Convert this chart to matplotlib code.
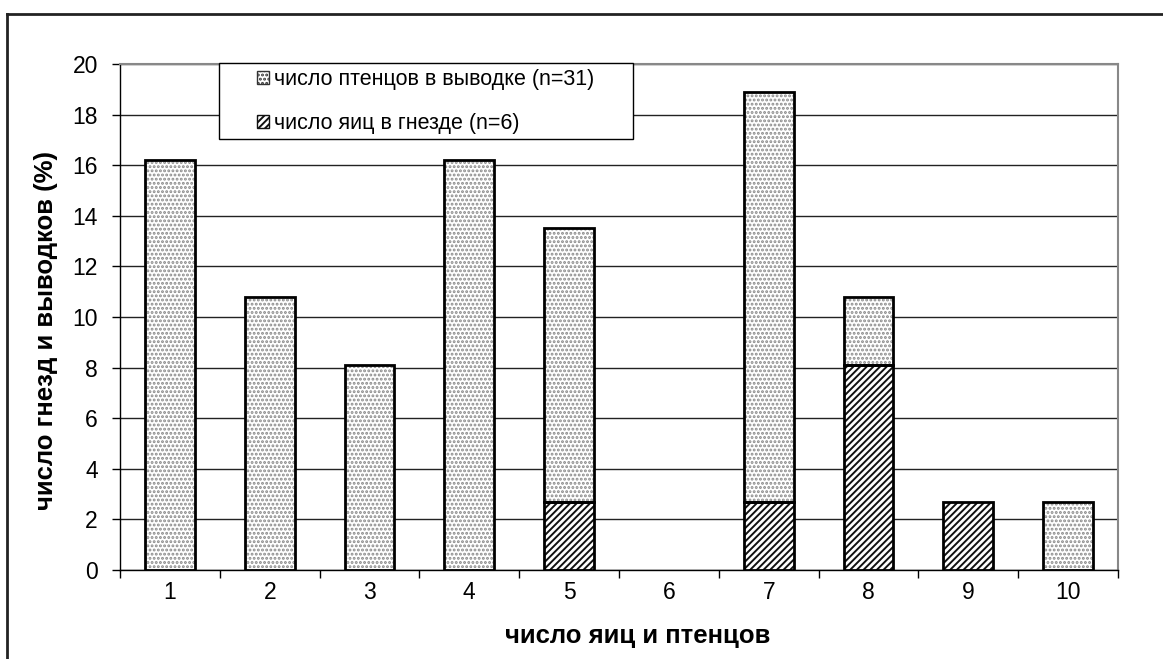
import matplotlib
matplotlib.use("Agg")
import matplotlib.pyplot as plt
import numpy as np
from matplotlib.patches import Patch, Rectangle
from matplotlib.lines import Line2D

plt.rcParams['font.family'] = ['Liberation Sans', 'DejaVu Sans']
plt.rcParams['hatch.linewidth'] = 1.4

categories = ['1', '2', '3', '4', '5', '6', '7', '8', '9', '10']
eggs = [0, 0, 0, 0, 2.7, 0, 2.7, 8.1, 2.7, 0]                  # число яиц в гнезде (n=6)
chicks = [16.2, 10.8, 8.1, 16.2, 10.8, 0, 16.2, 2.7, 0, 2.7]   # число птенцов в выводке (n=31)
yticks = [0, 2, 4, 6, 8, 10, 12, 14, 16, 18, 20]
labels = ['число птенцов в выводке (n=31)', 'число яиц в гнезде (n=6)']

W, H = 1163, 659
fig = plt.figure(figsize=(W / 100, H / 100), dpi=100)
ax = fig.add_axes([120 / W, 1 - 570 / H, (1118 - 120) / W, (570 - 64) / H])

x = np.arange(len(categories))
eggs_a = np.array(eggs)
chicks_a = np.array(chicks)
bw = 0.5

# hatch layers
ax.bar(x, eggs_a, bw, color='white', edgecolor='#111111', hatch='/////', linewidth=0, zorder=3)
ax.bar(x, chicks_a, bw, bottom=eggs_a, color='white', edgecolor='#8a8a8a', hatch='....', linewidth=0, zorder=3)
# outlines
me = eggs_a > 0
mc = chicks_a > 0
ax.bar(x[me], eggs_a[me], bw, fill=False, edgecolor='black', linewidth=2, zorder=4)
ax.bar(x[mc], chicks_a[mc], bw, bottom=eggs_a[mc], fill=False, edgecolor='black', linewidth=2, zorder=4)

ax.set_xlim(-0.5, len(categories) - 0.5)
ax.set_ylim(0, 20)
ax.set_yticks(yticks)
ax.set_yticklabels([str(v) for v in yticks], fontsize=16.5)
ax.set_xticks(x)
ax.set_xticklabels(categories, fontsize=16.5)
ax.tick_params(axis='x', which='major', length=0, pad=8)
ax.set_xticks(np.arange(-0.5, len(categories)), minor=True)
ax.tick_params(axis='x', which='minor', length=6, width=1, direction='out')
ax.tick_params(axis='y', length=6, width=1, direction='out', pad=10)

ax.yaxis.grid(True, color='#222222', linewidth=1)
ax.set_axisbelow(True)
for s in ['top', 'right']:
    ax.spines[s].set_color('#888888')
    ax.spines[s].set_linewidth(1.5)
for s in ['left', 'bottom']:
    ax.spines[s].set_color('black')
    ax.spines[s].set_linewidth(1)

ax.set_xlabel('число яиц и птенцов', fontsize=18.5, fontweight='bold')
ax.xaxis.label.set_va('baseline')
ax.xaxis.set_label_coords((638 - 120) / 998, (570 - 643) / 506)
ax.set_ylabel('число гнезд и выводков (%)', fontsize=18.5, fontweight='bold')
ax.yaxis.label.set_va('center')
ax.yaxis.set_label_coords((46 - 120) / 998, (570 - 331) / 506)

# legend frame
fig.add_artist(Rectangle((219 / W, 1 - 139 / H), 414 / W, 76 / H, transform=fig.transFigure,
                         facecolor='white', edgecolor='black', linewidth=1, zorder=5))
handles = [Patch(facecolor='white', edgecolor='#333333', hatch='....', linewidth=1),
           Patch(facecolor='white', edgecolor='#111111', hatch='/////', linewidth=1)]
leg = fig.legend(handles, labels, loc='upper left', bbox_to_anchor=(257 / W, 1 - 69 / H),
                 fontsize=15.5, frameon=False, handlelength=0.55, handleheight=0.55,
                 handletextpad=0.25, borderpad=0, labelspacing=1.08, borderaxespad=0)
leg.set_zorder(6)

# outer frame (top and left)
fig.add_artist(Line2D([7 / W, 1.0], [1 - 14 / H, 1 - 14 / H], color='#222222', linewidth=2,
                      transform=fig.transFigure))
fig.add_artist(Line2D([7 / W, 7 / W], [0, 1 - 14 / H], color='#222222', linewidth=2,
                      transform=fig.transFigure))

fig.savefig('out.png', dpi=100, facecolor='white')
